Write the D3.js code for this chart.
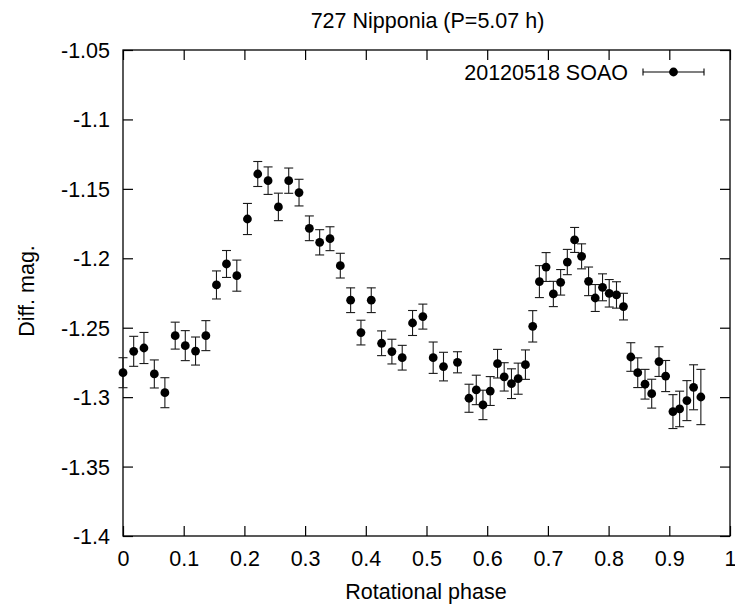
<!DOCTYPE html>
<html>
<head>
<meta charset="utf-8">
<script src="https://cdn.jsdelivr.net/npm/d3@7"></script>
<style>
  body { margin: 0; background: #fff; }
  text { font-family: "Liberation Sans", Arial, Helvetica, sans-serif; fill: #000; }
</style>
</head>
<body>
<div id="chart"></div>
<script>
  // 727 Nipponia light curve, 20120518 SOAO
  let phase = [0.000, 0.0176, 0.0345, 0.0516, 0.069, 0.086, 0.1026, 0.1195, 0.1365, 0.154,
    0.1705, 0.1875, 0.205, 0.222, 0.239, 0.256, 0.273, 0.290, 0.307, 0.324,
    0.341, 0.358, 0.375, 0.392, 0.409, 0.426, 0.443, 0.460, 0.477, 0.494,
    0.511, 0.528, 0.551, 0.570, 0.582, 0.593, 0.605, 0.617, 0.628, 0.640,
    0.651, 0.663, 0.675, 0.686, 0.697, 0.709, 0.721, 0.732, 0.744, 0.7555,
    0.767, 0.778, 0.790, 0.801, 0.813, 0.8245, 0.8366, 0.848, 0.860, 0.871,
    0.883, 0.894, 0.906, 0.917, 0.929, 0.940, 0.952]
  let mag = [-1.2824, -1.2670, -1.2646, -1.2833, -1.2968, -1.2557, -1.2629, -1.2668, -1.2557, -1.2192,
    -1.2041, -1.2125, -1.1717, -1.1393, -1.1441, -1.1630, -1.1441, -1.1527, -1.1784, -1.1885,
    -1.1859, -1.2053, -1.2302, -1.2535, -1.2302, -1.2612, -1.2672, -1.2716, -1.2466, -1.2420,
    -1.2716, -1.2780, -1.2749, -1.3008, -1.2948, -1.3056, -1.2956, -1.2759, -1.2854, -1.2903,
    -1.2867, -1.2766, -1.2490, -1.2168, -1.2063, -1.2257, -1.2173, -1.2027, -1.1868, -1.1986,
    -1.2166, -1.2286, -1.2209, -1.2252, -1.2264, -1.2348, -1.2711, -1.2824, -1.2907, -1.2975,
    -1.2744, -1.2848, -1.3104, -1.3085, -1.3025, -1.2929, -1.2999]
  let err = [0.0108, 0.0108, 0.0112, 0.0101, 0.0108, 0.0097, 0.0108, 0.0101, 0.0108, 0.0101,
    0.0097, 0.0112, 0.0112, 0.0090, 0.0099, 0.0099, 0.0091, 0.0096, 0.0089, 0.0091,
    0.0086, 0.0089, 0.0089, 0.0089, 0.0089, 0.0089, 0.0089, 0.0089, 0.0090, 0.0090,
    0.0113, 0.0103, 0.0076, 0.0101, 0.0106, 0.0106, 0.0104, 0.0103, 0.0102, 0.0107,
    0.0112, 0.0106, 0.0113, 0.0115, 0.0104, 0.0091, 0.0092, 0.0091, 0.0090, 0.0090,
    0.0103, 0.0097, 0.0097, 0.0099, 0.0095, 0.0096, 0.0103, 0.0107, 0.0107, 0.0104,
    0.0107, 0.0112, 0.0122, 0.0128, 0.0144, 0.0162, 0.0199]

  let xTicks = [0, 0.1, 0.2, 0.3, 0.4, 0.5, 0.6, 0.7, 0.8, 0.9, 1]
  let yTicks = [-1.4, -1.35, -1.3, -1.25, -1.2, -1.15, -1.1, -1.05]

  let title = "727 Nipponia (P=5.07 h)"
  let seriesName = "20120518 SOAO"

  let width = 735, height = 605
  let margin = {top: 50, right: 5, bottom: 69, left: 123}
  let fontSize = "21.5px"

  let data = phase.map(function(p, i){
    return {phase: p, mag: mag[i], err: err[i]}
  })

  let x = d3.scaleLinear().domain([0, 1]).range([margin.left, width - margin.right])
  let y = d3.scaleLinear().domain([-1.4, -1.05]).range([height - margin.bottom, margin.top])

  let svg = d3.select("#chart").append("svg")
    .attr("width", width)
    .attr("height", height)

  let fmt = function(d){ return String(+d.toFixed(2)) }

  // axes with inward ticks
  let gx = svg.append("g")
    .attr("transform", "translate(0," + y.range()[0] + ")")
    .call(d3.axisBottom(x).tickValues(xTicks).tickFormat(fmt).tickSizeInner(-10).tickSizeOuter(0))
  gx.selectAll("text").attr("y", 30).attr("dy", 0).style("font-size", fontSize)

  let gy = svg.append("g")
    .attr("transform", "translate(" + margin.left + ",0)")
    .call(d3.axisLeft(y).tickValues(yTicks).tickFormat(fmt).tickSizeInner(-10).tickSizeOuter(0))
  gy.selectAll("text").attr("x", -13).attr("dy", "0.35em").style("font-size", fontSize)

  svg.append("g")
    .attr("transform", "translate(0," + margin.top + ")")
    .call(d3.axisTop(x).tickValues(xTicks).tickFormat("").tickSizeInner(-10).tickSizeOuter(0))

  svg.append("g")
    .attr("transform", "translate(" + x.range()[1] + ",0)")
    .call(d3.axisRight(y).tickValues(yTicks).tickFormat("").tickSizeInner(-10).tickSizeOuter(0))

  svg.selectAll(".domain").remove()
  svg.selectAll(".tick line").attr("stroke", "#000").attr("stroke-width", 1.2)

  svg.append("rect")
    .attr("x", x.range()[0])
    .attr("y", y.range()[1])
    .attr("width", x.range()[1] - x.range()[0])
    .attr("height", y.range()[0] - y.range()[1])
    .attr("fill", "none")
    .attr("stroke", "#000")
    .attr("stroke-width", 1.3)

  // error bars
  let capW = 4.5
  let bars = svg.append("g").attr("class", "errbars")
    .attr("stroke", "#1a1a1a")
    .attr("stroke-width", 1.1)
    .selectAll("g")
    .data(data)
    .enter().append("g")

  bars.append("line")
    .attr("x1", function(d){ return x(d.phase) })
    .attr("x2", function(d){ return x(d.phase) })
    .attr("y1", function(d){ return y(d.mag - d.err) })
    .attr("y2", function(d){ return y(d.mag + d.err) })
  bars.append("line")
    .attr("x1", function(d){ return x(d.phase) - capW })
    .attr("x2", function(d){ return x(d.phase) + capW })
    .attr("y1", function(d){ return y(d.mag - d.err) })
    .attr("y2", function(d){ return y(d.mag - d.err) })
  bars.append("line")
    .attr("x1", function(d){ return x(d.phase) - capW })
    .attr("x2", function(d){ return x(d.phase) + capW })
    .attr("y1", function(d){ return y(d.mag + d.err) })
    .attr("y2", function(d){ return y(d.mag + d.err) })

  // points
  svg.append("g").selectAll("circle")
    .data(data)
    .enter().append("circle")
    .attr("cx", function(d){ return x(d.phase) })
    .attr("cy", function(d){ return y(d.mag) })
    .attr("r", 4.4)
    .attr("fill", "#000")

  // title and axis labels
  svg.append("text")
    .attr("x", 427.5).attr("y", 28)
    .attr("text-anchor", "middle")
    .style("font-size", fontSize)
    .text(title)

  svg.append("text")
    .attr("x", 426).attr("y", 599)
    .attr("text-anchor", "middle")
    .style("font-size", fontSize)
    .text("Rotational phase")

  svg.append("text")
    .attr("transform", "translate(33.5,291) rotate(-90)")
    .attr("text-anchor", "middle")
    .style("font-size", fontSize)
    .text("Diff. mag.")

  // legend
  let legend = svg.append("g").attr("transform", "translate(0,72)")
  legend.append("text")
    .attr("x", 628).attr("y", 0).attr("dy", "0.35em")
    .attr("text-anchor", "end")
    .style("font-size", fontSize)
    .text(seriesName)
  legend.append("line").attr("x1", 643).attr("x2", 704).attr("y1", 0).attr("y2", 0)
    .attr("stroke", "#000").attr("stroke-width", 1.1)
  legend.append("line").attr("x1", 643).attr("x2", 643).attr("y1", -3.5).attr("y2", 3.5)
    .attr("stroke", "#000").attr("stroke-width", 1.1)
  legend.append("line").attr("x1", 704).attr("x2", 704).attr("y1", -3.5).attr("y2", 3.5)
    .attr("stroke", "#000").attr("stroke-width", 1.1)
  legend.append("circle").attr("cx", 673.5).attr("cy", 0).attr("r", 4.4).attr("fill", "#000")
</script>
</body>
</html>
